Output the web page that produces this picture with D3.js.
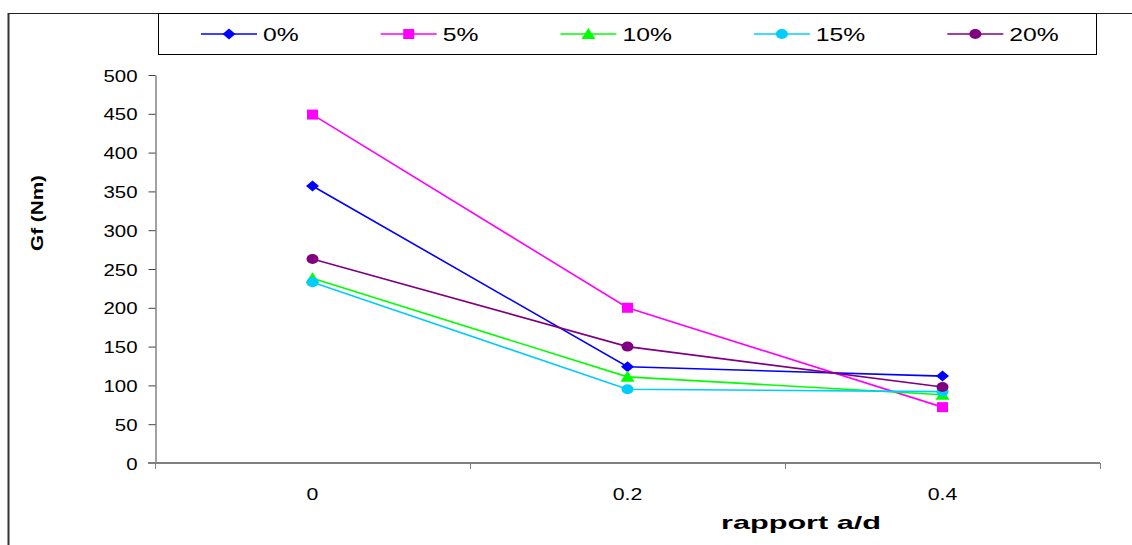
<!DOCTYPE html>
<html>
<head>
<meta charset="utf-8">
<script src="https://cdn.jsdelivr.net/npm/d3@7"></script>
<style>
  html, body { margin: 0; padding: 0; background: #fff; }
  svg { display: block; font-family: "Liberation Sans", Arial, sans-serif; }
</style>
</head>
<body>
<svg id="chart" width="1132" height="545"></svg>
<script>
// ---- data ----
const categories = ["0", "0.2", "0.4"];
const seriesNames = ["0%", "5%", "10%", "15%", "20%"];
const values0  = [357, 124, 112];
const values5  = [449, 200, 72];
const values10 = [238, 111, 88];
const values15 = [233, 95, 92];
const values20 = [263, 150, 98];
const yTicks = [0, 50, 100, 150, 200, 250, 300, 350, 400, 450, 500];
const xTitle = "rapport a/d";
const yTitle = "Gf (Nm)";

// ---- styles ----
const colors = ["#0000FF", "#FF00FF", "#00FF00", "#00CCFF", "#800080"];
const shapes = ["diamond", "square", "triangle", "circle", "circle"];
const allValues = [values0, values5, values10, values15, values20];
const series = seriesNames.map((name, i) => ({ name, values: allValues[i], color: colors[i], shape: shapes[i] }));

const W = 1132, H = 545;
const plot = { left: 155, right: 1100, top: 75, bottom: 463 };
const svg = d3.select("#chart");

function markerPath(shape) {
  switch (shape) {
    case "diamond": return "M0,-5.5L6.5,0L0,5.5L-6.5,0Z";
    case "square": return "M-5.5,-5L5.5,-5L5.5,5L-5.5,5Z";
    case "triangle": return "M0,-6L7,5L-7,5Z";
    case "circle": default: return "M-6,0A6,5 0 1,0 6,0A6,5 0 1,0 -6,0Z";
  }
}
// widen text horizontally; returns final width
function stretch(sel, factor) {
  let w = 0;
  sel.each(function () {
    const len = this.getComputedTextLength();
    w = len * factor;
    d3.select(this).attr("textLength", w).attr("lengthAdjust", "spacingAndGlyphs");
  });
  return w;
}
function fitWidth(sel, width) {
  sel.attr("textLength", width).attr("lengthAdjust", "spacingAndGlyphs");
}

// outer frame
svg.append("line").attr("x1", 8.5).attr("x2", 8.5).attr("y1", 13).attr("y2", H)
  .attr("stroke", "#333").attr("stroke-width", 2);
svg.append("line").attr("x1", 8).attr("x2", W).attr("y1", 13.5).attr("y2", 13.5)
  .attr("stroke", "#222").attr("stroke-width", 1);

// scales
const y = d3.scaleLinear().domain([0, 500]).range([plot.bottom, plot.top]);
const x = d3.scaleBand().domain(categories).range([plot.left, plot.right]).padding(0);
const xEdge = d3.scaleLinear().domain([0, categories.length]).range([plot.left, plot.right]);

// y axis
const yAxis = svg.append("g").attr("transform", `translate(${plot.left + 0.5},0)`)
  .call(d3.axisLeft(y).tickValues(yTicks).tickSize(7).tickPadding(11).tickSizeOuter(0));
yAxis.select(".domain").attr("stroke", "#444");
yAxis.selectAll(".tick line").attr("stroke", "#444");
yAxis.selectAll(".tick text").attr("font-size", 17).attr("fill", "#000")
  .attr("font-family", "'Liberation Sans', Arial, sans-serif").attr("dy", "0.36em");
stretch(yAxis.selectAll(".tick text"), 1.2);

// x axis line and boundary ticks
const xAxis = svg.append("g").attr("transform", `translate(0,${plot.bottom})`)
  .call(d3.axisBottom(xEdge).tickValues(d3.range(categories.length + 1)).tickSize(6).tickFormat("").tickSizeOuter(0));
xAxis.select(".domain").attr("stroke", "#808080").attr("stroke-width", 2)
  .attr("d", `M${plot.left - 7},0H${plot.right}`);
xAxis.selectAll(".tick line").attr("stroke", "#808080");

// x category labels
const xLab = svg.append("g").attr("transform", `translate(0,${plot.bottom})`)
  .call(d3.axisBottom(x).tickSize(0).tickPadding(25));
xLab.select(".domain").remove();
xLab.selectAll(".tick text").attr("font-size", 17).attr("fill", "#000")
  .attr("font-family", "'Liberation Sans', Arial, sans-serif");
stretch(xLab.selectAll(".tick text"), 1.25);

// axis titles
const xt = svg.append("text").attr("x", 801).attr("y", 529).attr("text-anchor", "middle")
  .attr("font-size", 19).attr("font-weight", "bold").text(xTitle);
fitWidth(xt, 160);
const yt = svg.append("text").attr("transform", "translate(43,213) rotate(-90)").attr("text-anchor", "middle")
  .attr("font-size", 16).attr("font-weight", "bold").text(yTitle);
fitWidth(yt, 76);

// lines and markers
const line = d3.line().x((d, i) => x(categories[i]) + x.bandwidth() / 2).y(d => y(d));
const gS = svg.append("g").selectAll("g").data(series).join("g");
gS.append("path").attr("d", d => line(d.values)).attr("fill", "none")
  .attr("stroke", d => d.color).attr("stroke-width", 1.6);
gS.each(function (s) {
  d3.select(this).selectAll("path.m").data(s.values).join("path").attr("class", "m")
    .attr("d", markerPath(s.shape)).attr("fill", s.color)
    .attr("transform", (d, i) => `translate(${x(categories[i]) + x.bandwidth() / 2},${y(d)})`);
});

// legend
const leg = svg.append("g");
leg.append("rect").attr("x", 158.5).attr("y", 13.5).attr("width", 938).attr("height", 41)
  .attr("fill", "#fff").attr("stroke", "#000").attr("stroke-width", 1);
let lx = 201;
const ly = 34;
series.forEach(s => {
  const g = leg.append("g");
  g.append("line").attr("x1", lx).attr("x2", lx + 56).attr("y1", ly).attr("y2", ly)
    .attr("stroke", s.color).attr("stroke-width", 1.6);
  g.append("path").attr("d", markerPath(s.shape)).attr("fill", s.color)
    .attr("transform", `translate(${lx + 28},${ly})`);
  const t = g.append("text").attr("x", lx + 62).attr("y", ly).attr("dy", "0.36em")
    .attr("font-size", 19).attr("fill", "#000").text(s.name);
  const tw = stretch(t, 1.3);
  lx = lx + 62 + tw + 82;
});
</script>
</body>
</html>
